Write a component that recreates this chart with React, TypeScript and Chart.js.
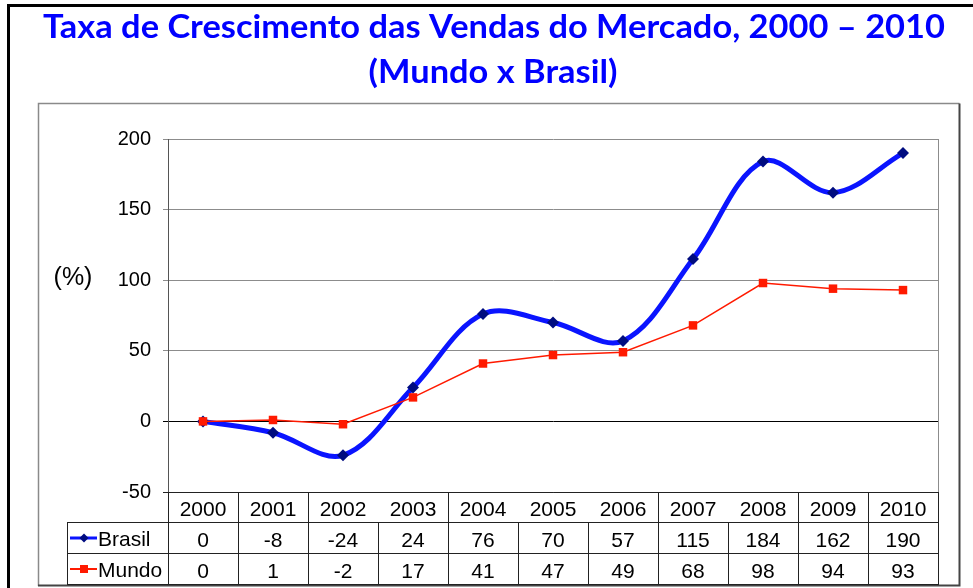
import React, { useEffect, useRef } from "react";
import { Chart, registerables } from "chart.js";

Chart.register(...registerables);

const categories = ["2000", "2001", "2002", "2003", "2004", "2005", "2006", "2007", "2008", "2009", "2010"];
const brasil = [0, -8, -24, 24, 76, 70, 57, 115, 184, 162, 190];
const mundo = [0, 1, -2, 17, 41, 47, 49, 68, 98, 94, 93];
const seriesNames = ["Brasil", "Mundo"];
const yMin = -50;
const yMax = 200;
const yStep = 50;
const titleLines = ["Taxa de Crescimento das Vendas do Mercado, 2000 – 2010", "(Mundo x Brasil)"];
const yAxisTitle = "(%)";
// column boundaries that show a divider in the year header row (as in the reference)
const headerDividers = [0, 1, 2, 4, 7, 9, 10, 11];

const BLUE = "#0a14ff";
const BLUE_MARK = "#000c80";
const RED = "#ff1a00";
const TABLE_FONT = '21px "Liberation Sans", Arial, sans-serif';

export default function App() {
  const ref = useRef<HTMLCanvasElement | null>(null);

  useEffect(() => {
    document.body.style.margin = "0";
    const canvas = ref.current!;
    const decor = {
      id: "decor",
      beforeDraw(chart: any) {
        const ctx = chart.ctx;
        ctx.save();
        ctx.fillStyle = "#fff";
        ctx.fillRect(0, 0, chart.width, chart.height);
        ctx.restore();
      },
      afterDraw(chart: any) {
        const ctx = chart.ctx as CanvasRenderingContext2D;
        const area = chart.chartArea;
        const xs = chart.scales.x;
        ctx.save();
        // outer black frame
        ctx.strokeStyle = "#000";
        ctx.lineWidth = 3;
        ctx.beginPath();
        ctx.moveTo(8.5, 600);
        ctx.lineTo(8.5, 5.5);
        ctx.lineTo(990, 5.5);
        ctx.stroke();
        // inner chart box
        ctx.lineWidth = 1.5;
        ctx.strokeStyle = "#8a8a8a";
        ctx.beginPath();
        ctx.moveTo(38.5, 586);
        ctx.lineTo(38.5, 103.5);
        ctx.lineTo(959.5, 103.5);
        ctx.stroke();
        ctx.strokeStyle = "#444";
        ctx.lineWidth = 2;
        ctx.beginPath();
        ctx.moveTo(959.5, 103.5);
        ctx.lineTo(959.5, 585.5);
        ctx.lineTo(38, 585.5);
        ctx.stroke();

        // title
        ctx.fillStyle = "#0000ff";
        ctx.font = 'bold 33px Lato, "Open Sans", sans-serif';
        ctx.textAlign = "center";
        ctx.textBaseline = "alphabetic";
        const w0 = ctx.measureText(titleLines[0]).width;
        const sx = 902 / w0;
        ctx.save();
        ctx.translate(494, 38);
        ctx.scale(sx, 1);
        ctx.fillText(titleLines[0], 0, 0);
        ctx.restore();
        ctx.save();
        ctx.translate(493, 83);
        ctx.scale(sx, 1);
        ctx.fillText(titleLines[1], 0, 0);
        ctx.restore();

        // y axis title
        ctx.fillStyle = "#000";
        ctx.font = '25px "Liberation Sans", Arial, sans-serif';
        ctx.textAlign = "center";
        ctx.textBaseline = "middle";
        ctx.fillText(yAxisTitle, 73, 278);

        // plot right border
        ctx.strokeStyle = "#8c8c8c";
        ctx.lineWidth = 1;
        ctx.beginPath();
        ctx.moveTo(Math.round(area.right) + 0.5, area.top);
        ctx.lineTo(Math.round(area.right) + 0.5, area.bottom);
        ctx.stroke();

        // data table
        const colW = xs.getPixelForValue(1) - xs.getPixelForValue(0);
        const bound = (k: number) => Math.round(xs.getPixelForValue(0) - colW / 2 + k * colW) + 0.5;
        const top = Math.round(area.bottom);
        const rowH = 31;
        const r1 = top + 30;
        const r2 = r1 + rowH;
        const r3 = r2 + rowH;
        const legendLeft = 67.5;
        ctx.strokeStyle = "#222";
        ctx.lineWidth = 1;
        ctx.beginPath();
        ctx.moveTo(bound(0), top + 0.5);
        ctx.lineTo(bound(11), top + 0.5);
        [r1, r2, r3].forEach((y) => {
          ctx.moveTo(legendLeft, y + 0.5);
          ctx.lineTo(bound(11), y + 0.5);
        });
        headerDividers.forEach((k) => {
          ctx.moveTo(bound(k), top);
          ctx.lineTo(bound(k), r1);
        });
        for (let k = 0; k <= categories.length; k++) {
          ctx.moveTo(bound(k), r1);
          ctx.lineTo(bound(k), r3 + 1);
        }
        ctx.moveTo(legendLeft, r1);
        ctx.lineTo(legendLeft, r3 + 1);
        ctx.stroke();

        ctx.fillStyle = "#000";
        ctx.font = TABLE_FONT;
        ctx.textAlign = "center";
        ctx.textBaseline = "alphabetic";
        categories.forEach((c, i) => {
          const cx = xs.getPixelForValue(i);
          ctx.fillText(c, cx, top + 24);
          ctx.fillText(String(brasil[i]), cx, r1 + 25);
          ctx.fillText(String(mundo[i]), cx, r2 + 25);
        });

        // legend keys
        const keys = [
          { name: seriesNames[0], color: BLUE, mark: BLUE_MARK, y: r1 + 16, diamond: true },
          { name: seriesNames[1], color: RED, mark: RED, y: r2 + 16, diamond: false },
        ];
        keys.forEach((k) => {
          ctx.strokeStyle = k.color;
          ctx.lineWidth = k.diamond ? 3 : 2;
          ctx.beginPath();
          ctx.moveTo(70, k.y);
          ctx.lineTo(97, k.y);
          ctx.stroke();
          ctx.fillStyle = k.mark;
          ctx.beginPath();
          if (k.diamond) {
            ctx.moveTo(84, k.y - 4.5);
            ctx.lineTo(88.5, k.y);
            ctx.lineTo(84, k.y + 4.5);
            ctx.lineTo(79.5, k.y);
          } else {
            ctx.rect(80, k.y - 4, 8, 8);
          }
          ctx.closePath();
          ctx.fill();
          ctx.fillStyle = "#000";
          ctx.textAlign = "left";
          ctx.fillText(k.name, 98, k.y + 8);
        });
        ctx.restore();
      },
    };

    const chart = new Chart(canvas, {
      type: "line",
      data: {
        labels: categories,
        datasets: [
          {
            label: seriesNames[0],
            data: brasil,
            borderColor: BLUE,
            backgroundColor: BLUE_MARK,
            borderWidth: 5,
            tension: 0.35,
            pointStyle: "rectRot",
            pointRadius: 6,
            pointBackgroundColor: BLUE_MARK,
            pointBorderColor: BLUE_MARK,
            pointBorderWidth: 0,
            order: 2,
            clip: false as any,
          },
          {
            label: seriesNames[1],
            data: mundo,
            borderColor: RED,
            backgroundColor: RED,
            borderWidth: 1.5,
            tension: 0,
            pointStyle: "rect",
            pointRadius: 6,
            pointBackgroundColor: RED,
            pointBorderColor: RED,
            pointBorderWidth: 0,
            order: 1,
            clip: false as any,
          },
        ],
      },
      options: {
        responsive: false,
        animation: false,
        devicePixelRatio: 1,
        layout: { padding: { left: 108, top: 139, right: 35, bottom: 96 } },
        plugins: {
          legend: { display: false },
          title: { display: false },
          tooltip: { enabled: false },
        },
        scales: {
          x: {
            type: "category",
            offset: true,
            display: false,
          },
          y: {
            min: yMin,
            max: yMax,
            afterFit(scale: any) {
              scale.width = 60;
            },
            ticks: {
              stepSize: yStep,
              color: "#000",
              padding: 12,
              font: { family: '"Liberation Sans", Arial, sans-serif', size: 20 },
            },
            grid: {
              color: (c: any) => (c.tick && c.tick.value === 0 ? "#000" : c.tick && c.tick.value === yMin ? "#222" : "#8c8c8c"),
              lineWidth: 1,
              tickLength: 5,
              drawTicks: true,
            },
            border: { color: "#555", width: 1 },
          },
        },
      },
      plugins: [decor],
    });
    return () => chart.destroy();
  }, []);

  return <canvas ref={ref} width={973} height={588} style={{ display: "block" }} />;
}
